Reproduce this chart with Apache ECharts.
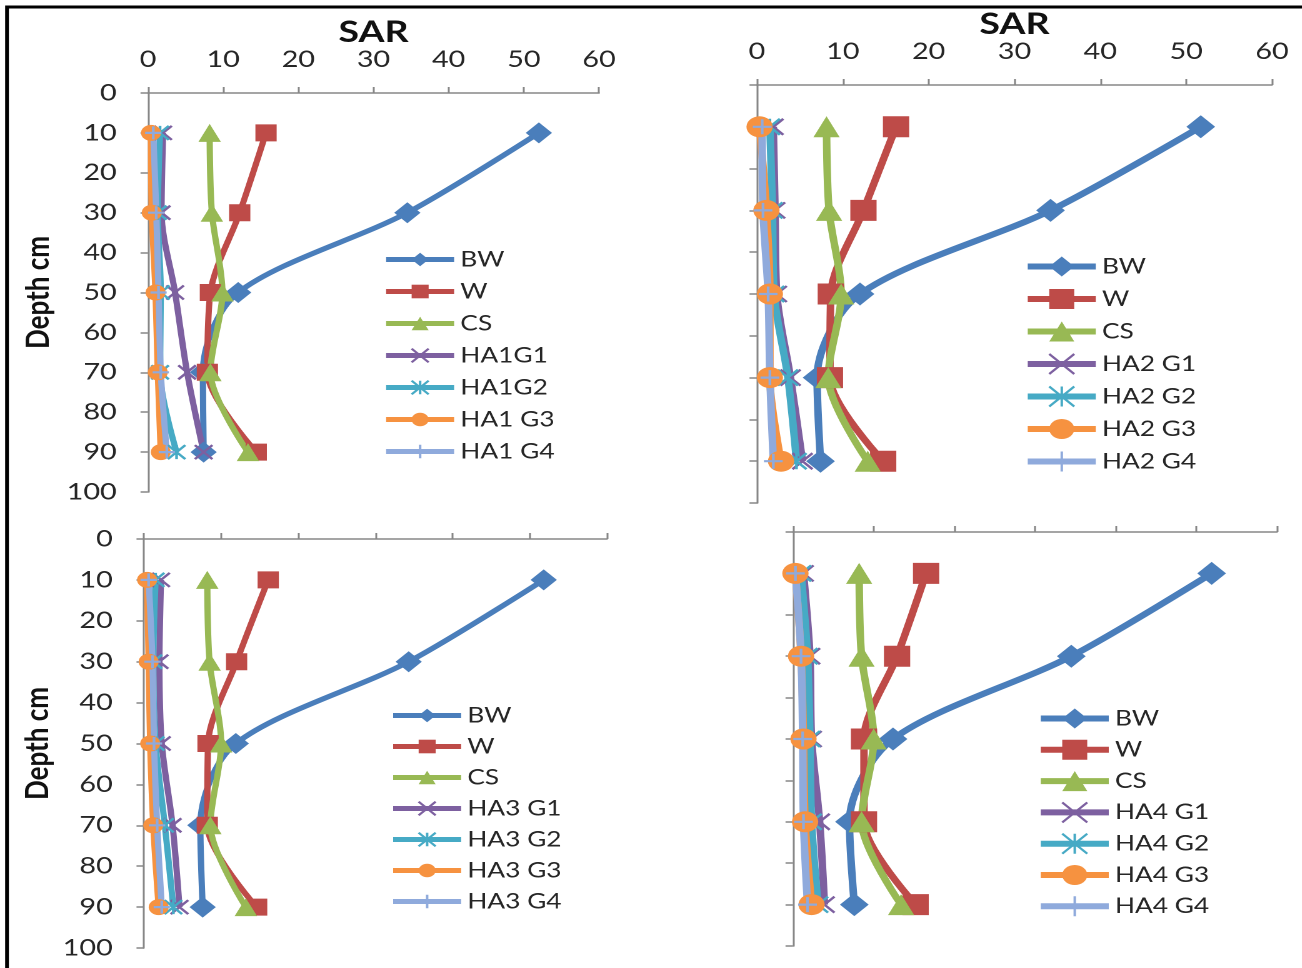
<!DOCTYPE html>
<html>
<head>
<meta charset="utf-8">
<script src="https://cdn.jsdelivr.net/npm/echarts@6/dist/echarts.min.js"></script>
<style>
  html, body { margin: 0; padding: 0; background: #ffffff; overflow: hidden; width: 1302px; height: 968px; }
  #chart { position: absolute; left: 0; top: 0; width: 1041.6px; height: 968px; transform: scaleX(1.25); transform-origin: 0 0; }
</style>
</head>
<body>
<div id="chart"></div>
<script>
// ---------------- DATA ----------------
const depths = [10, 30, 50, 70, 90];
const xTicks = [0, 10, 20, 30, 40, 50, 60];
const yTicks = [0, 10, 20, 30, 40, 50, 60, 70, 80, 90, 100];

const p1Names = ['BW', 'W', 'CS', 'HA1G1', 'HA1G2', 'HA1 G3', 'HA1 G4'];
const p1BW = [52.0, 34.5, 12.0, 7.3, 7.4];
const p1W  = [15.7, 12.2, 8.3, 7.9, 14.4];
const p1CS = [8.2, 8.5, 9.9, 8.3, 13.3];
const p1G1 = [2.0, 1.8, 3.6, 5.2, 7.4];
const p1G2 = [1.6, 1.3, 1.7, 1.6, 3.8];
const p1G3 = [0.4, 0.5, 1.0, 1.3, 1.7];
const p1G4 = [0.7, 1.1, 1.4, 1.7, 2.5];

const p2Names = ['BW', 'W', 'CS', 'HA2 G1', 'HA2 G2', 'HA2 G3', 'HA2 G4'];
const p2BW = [51.7, 34.2, 12.0, 7.0, 7.4];
const p2W  = [16.2, 12.4, 8.6, 8.5, 14.7];
const p2CS = [8.1, 8.4, 9.8, 8.3, 12.9];
const p2G1 = [1.9, 2.1, 2.3, 3.9, 5.3];
const p2G2 = [1.5, 1.8, 2.0, 3.6, 4.6];
const p2G3 = [0.3, 1.1, 1.5, 1.5, 2.8];
const p2G4 = [0.6, 0.7, 1.3, 1.5, 1.9];

const p3Names = ['BW', 'W', 'CS', 'HA3 G1', 'HA3 G2', 'HA3 G3', 'HA3 G4'];
const p3BW = [51.8, 34.3, 11.9, 7.3, 7.6];
const p3W  = [16.1, 12.0, 8.3, 8.2, 14.6];
const p3CS = [8.2, 8.5, 10.0, 8.6, 13.2];
const p3G1 = [2.2, 2.0, 2.3, 3.7, 4.6];
const p3G2 = [1.5, 1.2, 1.5, 2.7, 3.8];
const p3G3 = [0.4, 0.6, 0.8, 1.2, 1.9];
const p3G4 = [0.6, 1.1, 1.3, 1.7, 2.3];

const p4Names = ['BW', 'W', 'CS', 'HA4 G1', 'HA4 G2', 'HA4 G3', 'HA4 G4'];
const p4BW = [51.9, 34.5, 12.4, 7.0, 7.6];
const p4W  = [16.5, 12.9, 8.8, 8.8, 15.2];
const p4CS = [8.2, 8.5, 10.0, 8.5, 13.4];
const p4G1 = [1.3, 2.1, 2.3, 3.3, 3.9];
const p4G2 = [1.0, 1.8, 2.1, 2.3, 3.1];
const p4G3 = [0.3, 1.0, 1.3, 1.5, 2.3];
const p4G4 = [0.3, 1.0, 1.2, 1.3, 1.8];

// ---------------- STYLE ----------------
const SX = 1.25; // horizontal stretch of the reference picture
const colors = ['#4A7EBB', '#BE4B48', '#98B954', '#7D60A0', '#46AAC5', '#F69240', '#8FAADC'];
const SYM_X = 'path://M0,0L10,10M10,0L0,10';
const SYM_STAR = 'path://M0,0L10,10M10,0L0,10M5,0L5,10';
const SYM_PLUS = 'path://M5,0L5,10M0,5L10,5';
const symbols = ['diamond', 'rect', 'triangle', SYM_X, SYM_STAR, 'circle', SYM_PLUS];
const FONT = 'Lato, "Noto Sans", sans-serif';
const AXIS_COLOR = '#878787';
const LABEL_COLOR = '#262626';

const panels = [
  { names: p1Names, vals: [p1BW, p1W, p1CS, p1G1, p1G2, p1G3, p1G4],
    grid: [148, 93, 599, 492], xLabels: true, yLabels: true, sar: true, nameGap: 36,
    legend: [383, 247, 17, 7], lw: 5, sizes: [21, 17, 18, 14, 14, 16, 13] },
  { names: p2Names, vals: [p2BW, p2W, p2CS, p2G1, p2G2, p2G3, p2G4],
    grid: [757, 85, 1272, 503], xLabels: true, yLabels: false, sar: true, nameGap: 37,
    legend: [1024, 254, 25, 7.5], lw: 6, sizes: [23, 21, 21, 16, 16, 21, 15] },
  { names: p3Names, vals: [p3BW, p3W, p3CS, p3G1, p3G2, p3G3, p3G4],
    grid: [144, 539, 607, 948], xLabels: false, yLabels: true, sar: false, nameGap: 36,
    legend: [390, 703, 17, 6], lw: 5, sizes: [21, 17, 18, 14, 14, 16, 13] },
  { names: p4Names, vals: [p4BW, p4W, p4CS, p4G1, p4G2, p4G3, p4G4],
    grid: [793, 532, 1277, 946], xLabels: false, yLabels: false, sar: false, nameGap: 36,
    legend: [1037, 706, 25, 6.3], lw: 6, sizes: [23, 21, 21, 16, 16, 21, 15] }
];

const grids = [], xAxes = [], yAxes = [], series = [], legends = [];

panels.forEach((p, i) => {
  const [x0, y0, x1, y1] = p.grid;
  grids.push({ left: x0 / SX, top: y0, width: (x1 - x0) / SX, height: y1 - y0, containLabel: false });
  xAxes.push({
    type: 'value', gridIndex: i, position: 'top', min: xTicks[0], max: xTicks[xTicks.length - 1], interval: 10,
    name: p.sar ? 'SAR' : '', nameLocation: 'middle', nameGap: p.nameGap,
    nameTextStyle: { fontFamily: FONT, fontWeight: 'bold', fontSize: 30, color: '#111' },
    axisLine: { show: true, onZero: false, lineStyle: { color: AXIS_COLOR, width: 1.5 } },
    axisTick: { show: true, length: 6, lineStyle: { color: AXIS_COLOR, width: 1.5 } },
    axisLabel: { show: p.xLabels, margin: 22, fontFamily: FONT, fontSize: 23, color: LABEL_COLOR },
    splitLine: { show: false }
  });
  yAxes.push({
    type: 'value', gridIndex: i, inverse: true, min: yTicks[0], max: yTicks[yTicks.length - 1], interval: 10,
    name: p.yLabels ? 'Depth cm' : '', nameLocation: 'middle', nameGap: i === 0 ? 75 : 72,
    nameTextStyle: { fontFamily: FONT, fontWeight: 'bold', fontSize: 26, color: '#111' },
    axisLine: { show: true, onZero: false, lineStyle: { color: AXIS_COLOR, width: 1.5 } },
    axisTick: { show: true, length: 6, lineStyle: { color: AXIS_COLOR, width: 1.5 } },
    axisLabel: { show: p.yLabels, margin: 25, fontFamily: FONT, fontSize: 23, color: LABEL_COLOR },
    splitLine: { show: false }
  });
  p.names.forEach((nm, k) => {
    const isPath = symbols[k].indexOf('path://') === 0;
    series.push({
      name: nm, type: 'line', xAxisIndex: i, yAxisIndex: i,
      data: p.vals[k].map((v, j) => [v, depths[j]]),
      smooth: 0.3,
      symbol: symbols[k], symbolSize: p.sizes[k],
      lineStyle: { color: colors[k], width: p.lw },
      itemStyle: { color: colors[k], borderColor: colors[k], borderWidth: isPath ? 2.2 : 0 },
      emphasis: { disabled: true },
      animation: false
    });
  });
  const [lx, ly, ih, gap] = p.legend;
  legends.push({
    data: p.names, orient: 'vertical', left: lx / SX, top: ly,
    itemWidth: 68 / SX, itemHeight: ih, itemGap: gap,
    lineStyle: { width: p.lw },
    textStyle: { fontFamily: FONT, fontSize: 21, color: LABEL_COLOR, lineHeight: 25, padding: [0, 0, 0, 0] },
    selectedMode: false, padding: 0
  });
});

const chart = echarts.init(document.getElementById('chart'), null, { renderer: 'canvas', devicePixelRatio: 2 });
chart.setOption({
  backgroundColor: '#ffffff',
  animation: false,
  grid: grids, xAxis: xAxes, yAxis: yAxes, series: series, legend: legends,
  graphic: [{
    type: 'polyline', silent: true,
    shape: { points: [[7 / SX, 990], [7 / SX, 7], [1400 / SX, 7]] },
    style: { stroke: '#000', lineWidth: 3, fill: null }
  }]
});
</script>
</body>
</html>
